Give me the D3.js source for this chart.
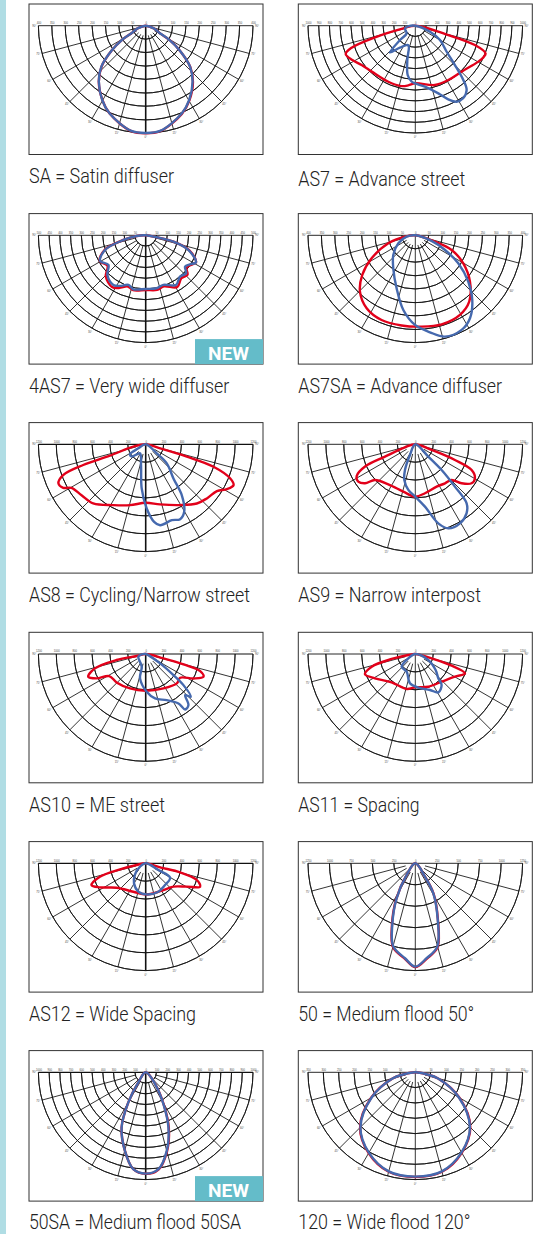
<!DOCTYPE html>
<html><head><meta charset="utf-8">
<script src="https://cdn.jsdelivr.net/npm/d3@7"></script>
<style>
html,body{margin:0;padding:0;background:#fff}
svg{display:block}
.cap{font-family:"Roboto",sans-serif;font-weight:300;font-size:19.5px;fill:#222}
.new{font-family:"Roboto",sans-serif;font-weight:700;font-size:19px;fill:#fff}
.tick text,.ang{font-family:"Liberation Sans",sans-serif;font-size:2.7px;fill:#444}
</style></head><body>
<script>
// Caption of each panel
const captions = ["SA = Satin diffuser","AS7 = Advance street","4AS7 = Very wide diffuser","AS7SA = Advance diffuser",
"AS8 = Cycling/Narrow street","AS9 = Narrow interpost","AS10 = ME street","AS11 = Spacing",
"AS12 = Wide Spacing","50 = Medium flood 50°","50SA = Medium flood 50SA","120 = Wide flood 120°"];
// Number of rings on each polar grid, and the value of one ring
const ringCounts = [8,10,10,8,6,6,6,6,6,5,10,7];
const ringSteps = [50,100,50,50,200,200,200,200,200,250,100,50];
const newBadges = [2,10];
const spokeAngles = [-75,-60,-45,-30,-15,0,15,30,45,60,75];

// Curves: [degrees from nadir, intensity as % of the outer ring]
const saRed = [[90,0],[72,8],[62,15.2],[59,26.2],[54,39.2],[47.2,56.6],[40,68.5],[30.2,80.8],[22.3,88.8],[7.8,99.2],[0,100.3],[-7.8,99.2],[-22.3,88.5],[-30.2,80.2],[-40,68],[-47.2,56],[-54,39],[-59,26],[-62,15],[-72,8]];
const saBlue = [[90,0],[72,8],[62,15],[59,26],[54,39],[47.2,56.4],[40,68],[30.2,80.4],[22.3,88.5],[7.8,99],[0,100],[-7.8,99],[-22.3,88.5],[-30.2,80.4],[-40,68],[-47.2,56.4],[-54,39],[-59,26],[-62,15],[-72,8]];
const as7Red = [[90,0],[74.2,32],[72,58.4],[68.5,70.4],[65,69.9],[60.3,67.6],[45.2,60.8],[31.3,59.2],[18.3,58.2],[0,53.7],[-6.7,56],[-12.8,57.7],[-25.7,58],[-43.5,59],[-53.8,62],[-61.4,66.8],[-67.9,70],[-70.9,62.8],[-73.9,39],[-77.5,11.4]];
const as7Blue = [[90,0],[67.8,14.8],[59.8,26.6],[50.3,38],[45.2,52],[41.5,67.5],[38.6,76.7],[33.4,81],[28.5,80.6],[24.1,75.2],[18.8,66.6],[9,57.5],[-3.7,52.3],[-8.8,46.5],[-13.1,32.8],[-19.9,19.2],[-34.9,25],[-43.5,34.3],[-46.9,19.6],[-48.5,10.8],[-75.5,10],[-87,6]];
const as47Red = [[90,0],[79.7,10.4],[77.1,26.5],[71,43],[61.8,53.2],[56.8,50.5],[51.5,48.5],[46.7,53.5],[39.7,52],[31.4,56.5],[19.6,50.5],[11.7,52],[0,51],[-12.9,52.5],[-19.2,50.5],[-26.9,55],[-33.1,57.5],[-44,53.5],[-51.5,45.5],[-60.7,49],[-70.2,41],[-78.2,21.2],[-85.8,8.4]];
const as47Blue = [[90,0],[79.7,10.4],[77.1,26.5],[71,42],[61.8,53.2],[56.8,49.4],[51.5,46.9],[46.7,51.7],[39.7,50],[31.4,54.2],[19.6,49],[11.7,50.4],[0,50],[-12.9,51.6],[-19.2,49],[-26.9,52.9],[-33.1,55.2],[-44,51.4],[-51.5,44.4],[-60.7,48.8],[-70.2,40.3],[-78.2,21.2],[-85.8,8.4]];
const as7saRed = [[90,0],[72.1,19.3],[68,36.5],[59.7,51.8],[49.7,66.8],[39.1,79.7],[29.3,85],[16.5,86.5],[4,85.3],[-8.6,85],[-21.7,85],[-33.7,81.7],[-44.5,73.6],[-53.2,61.7],[-62.2,46],[-73.5,26.2],[-82.6,9.7]];
const as7saBlue = [[90,0],[70.9,16],[63.7,30.9],[56.9,47.8],[48.8,65.6],[41.4,80.3],[33.4,92.6],[26.1,98.2],[16.3,98.4],[8.6,91.4],[-0.2,83.5],[-9.1,70.5],[-19.4,52.4],[-33.7,37],[-48.2,27.5],[-64.8,17.5],[-81.3,8.2]];
const as8Red = [[90,0],[74.4,13.9],[73.3,40],[71.7,66.6],[68,85],[65.1,90.3],[61.1,86.5],[56.7,79.4],[48.5,76.1],[40.8,72.9],[29.5,65.1],[13.4,57.6],[0,54.5],[-14.5,58.6],[-28,64.2],[-41.6,73.7],[-51.6,76.3],[-59.6,80.3],[-62.2,86.9],[-65.9,89.1],[-69.6,82.1],[-71.7,61.4],[-72.4,35],[-79.3,11.7]];
const as8Blue = [[90,0],[50.7,13.3],[47.9,26.5],[39.1,41],[35.4,58],[29.7,72.4],[24.7,76.8],[19,74.8],[10.1,76.6],[6.2,72.7],[0.9,59.8],[-5.2,41.3],[-12.7,19.8],[-32.2,10],[-48.6,17.4],[-57.4,17.4],[-61.4,7.8]];
const as9Red = [[90,0],[70.9,16.1],[68.4,39.7],[65.5,57.7],[60.3,64],[55.3,63.8],[49.9,56.4],[45.5,47.4],[37.3,45.7],[26.7,44.2],[11.2,46.5],[0,48.8],[-14.2,45.5],[-34,45],[-48.5,50.2],[-52.2,59.3],[-56.8,63.5],[-61.6,62.1],[-66.1,51.2],[-67.9,30.5],[-73.8,10]];
const as9Blue = [[90,0],[46.5,16.7],[45.7,34.3],[43.1,54],[41,72.9],[36.6,80.1],[29.5,84.6],[21.4,84.1],[16.2,76.7],[8.8,58.8],[0,48.8],[-8.7,43],[-17.1,34.8],[-21.9,25.8],[-26.6,11.1]];
const as10Red = [[90,0],[76.2,17],[74.7,36.5],[72.6,53.2],[68.5,57.9],[62.9,50],[55.4,39],[46.6,39.9],[27.2,36.1],[0,34.3],[-24.5,35.3],[-45.7,37.9],[-58.8,39.7],[-63.6,51.1],[-68.4,57.6],[-74.2,49.2],[-78.3,27.7],[-77.5,8.6]];
const as10Blue = [[90,0],[56.9,16],[52.8,32.5],[50.5,45.6],[46.5,58],[43.8,53.1],[39.9,62.1],[35.4,63.4],[33.5,55.3],[24.5,47.3],[11.9,42.3],[1.5,35.2],[-13.1,23.3],[-17.5,12.4],[-70,7.3],[-85,3.7]];
const as11Red = [[90,0],[75.1,15.7],[72.2,35.6],[68.7,49.7],[60.3,42.6],[43.6,35.6],[21.7,32.8],[0,31],[-13.9,33.6],[-39.9,34.4],[-58.9,43.9],[-68,50.6],[-73.8,42.3],[-78.1,22.5],[-81.9,6.6]];
const as11Blue = [[90,0],[65.2,13.3],[51.8,24.1],[43.4,31.2],[40.3,37.9],[31,41.7],[22.2,36.2],[5.1,31.5],[-10.3,27.8],[-26.1,18.3],[-47.2,17.4],[-58.2,7.7]];
const as12Red = [[90,0],[74.4,13.9],[75.3,33.2],[71.9,50.1],[66.8,55.3],[60.4,44.1],[49.9,33.8],[33.5,29.9],[14.3,28.9],[0,29],[-23.5,28.9],[-50,35.4],[-62.3,48.2],[-68.1,54.4],[-73.7,44.5],[-76.8,24.6],[-79.5,8.6]];
const as12Blue = [[90,0],[62.2,13.4],[59.5,26.4],[41.7,27.1],[24.1,29],[1.8,29],[-14.5,27.3],[-30.3,21.6],[-44.1,14.3],[-59.5,6.1]];
const flood50Red = [[90,0],[35.9,15.3],[31,33],[22.1,55.8],[14.8,81],[6.8,89.6],[0,96.8],[-6.2,89.6],[-14.8,81],[-20.5,62.3],[-28.1,37.8],[-36.6,13.5]];
const flood50Blue = [[90,0],[35.9,15.3],[31,32.6],[22.1,55.3],[14.8,80.3],[6.8,89.1],[0,96.3],[-6.2,89],[-14.8,80.3],[-20.5,61.3],[-28.1,37],[-36.6,13.5]];
const flood50saRed = [[90,0],[38.7,14.3],[29.2,34.5],[22.4,56.6],[15,76.5],[7.5,91.4],[0,94.6],[-7.3,91],[-14.8,75.7],[-23.6,56.1],[-30,32.4],[-36.3,11.6]];
const flood50saBlue = [[90,0],[38.7,14],[29.2,33.9],[22.4,55.6],[15,75.8],[7.5,91],[0,94.4],[-7.3,91],[-14.8,75.7],[-23.6,56.1],[-30,32.4],[-36.3,11.6]];
const flood120Red = [[90,0],[80,10.5],[75,22],[60,47.5],[45,72.5],[30,86.6],[15,96],[0,97.6],[-15,96],[-30,87],[-45,72.8],[-60,47.5],[-75,22],[-80,10.5]];
const flood120Blue = [[90,0],[80,10.5],[75,22],[60,47],[45,72],[30,86.2],[15,95.6],[0,97.2],[-15,95.6],[-30,86.5],[-45,72.3],[-60,47],[-75,22],[-80,10.5]];

const redCurves = [saRed,as7Red,as47Red,as7saRed,as8Red,as9Red,as10Red,as11Red,as12Red,flood50Red,flood50saRed,flood120Red];
const blueCurves = [saBlue,as7Blue,as47Blue,as7saBlue,as8Blue,as9Blue,as10Blue,as11Blue,as12Blue,flood50Blue,flood50saBlue,flood120Blue];

// Layout
const W=550,H=1234,R=107.3,inner=10;
const colBox=[29,298.3], boxW=234, boxH=150.5, colCx=[145.7,415.3];
const rowBase=[25.7,235.3,444.3,654,863.3,1072.3];
const capY=[[183,185.7],[393,393],[601.7,601.7],[811.7,811.7],[1020.7,1020.7],[1229,1229]];
const capW=[145,167,200.3,203.7,221,182.7,136,121.3,167,176,212,172.2];
const RED="#e2001a",BLUE="#4569ae",INK="#111";

const svg=d3.select("body").append("svg").attr("width",W).attr("height",H);
svg.append("rect").attr("width",6).attr("height",H).attr("fill","#b0dde4");

const rad=d3.scaleLinear().domain([0,100]).range([0,R]);
const ang=d3.scaleLinear().domain([0,180]).range([Math.PI,0]);
const curve=d3.lineRadial().angle(d=>ang(d[0])).radius(d=>rad(d[1])).curve(d3.curveCatmullRomClosed.alpha(0.5));

captions.forEach((cap,i)=>{
  const col=i%2,row=Math.floor(i/2),cx=colCx[col],cy=rowBase[row],bx=colBox[col],by=cy-21.7;
  const n=ringCounts[i],step=ringSteps[i];
  svg.append("rect").attr("x",bx).attr("y",by).attr("width",boxW).attr("height",boxH)
    .attr("fill","#fff").attr("stroke","#333").attr("stroke-width",1);
  const g=svg.append("g").attr("transform",`translate(${cx},${cy})`);
  const ring=d3.scaleLinear().domain([0,n]).range([0,R]);
  const arc=d3.arc().startAngle(Math.PI/2).endAngle(Math.PI*1.5);
  g.selectAll("path.ring").data(d3.range(1,n+1)).join("path").attr("class","ring")
    .attr("d",k=>arc({innerRadius:ring(k),outerRadius:ring(k)}))
    .attr("fill","none").attr("stroke",INK).attr("stroke-width",0.85);
  g.selectAll("line.spoke").data(spokeAngles).join("line").attr("class","spoke")
    .attr("x1",a=>(a===0?0:inner)*Math.sin(a*Math.PI/180))
    .attr("y1",a=>(a===0?0:inner)*Math.cos(a*Math.PI/180))
    .attr("x2",a=>R*Math.sin(a*Math.PI/180))
    .attr("y2",a=>R*Math.cos(a*Math.PI/180))
    .attr("stroke",INK)
    .attr("stroke-width",a=>a===0&&col===0?1.6:0.85);
  g.append("line").attr("x1",-R).attr("x2",R).attr("stroke",INK).attr("stroke-width",col===0&&row>1?1.2:0.9);
  // value labels along the top and angle labels round the rim
  const xs=d3.scaleLinear().domain([-n,n]).range([-R,R]);
  const ax=d3.axisTop(xs).tickValues(d3.range(-n,n+1)).tickSize(0).tickPadding(1.8).tickFormat(v=>Math.abs(v)*step);
  const ag=g.append("g").call(ax);
  ag.select(".domain").remove();
  g.selectAll("text.ang").data([-90,...spokeAngles,90]).join("text").attr("class","ang")
    .attr("x",a=>(R+4)*Math.sin(a*Math.PI/180))
    .attr("y",a=>(R+4)*Math.cos(a*Math.PI/180)+1)
    .attr("text-anchor","middle").text(a=>Math.abs(a)+"°");
  g.append("path").attr("d",curve(redCurves[i])).attr("fill","none").attr("stroke",RED).attr("stroke-width",2.4).attr("stroke-linejoin","round");
  g.append("path").attr("d",curve(blueCurves[i])).attr("fill","none").attr("stroke",BLUE).attr("stroke-width",2.4).attr("stroke-linejoin","round");
  if(newBadges.includes(i)){
    const by2=by+boxH;
    svg.append("rect").attr("x",bx+166).attr("y",by2-25).attr("width",68).attr("height",25).attr("fill","#64bcc9");
    svg.append("text").attr("class","new").attr("x",bx+179).attr("y",by2-4.5)
      .attr("textLength",41).attr("lengthAdjust","spacingAndGlyphs").text("NEW");
  }
  svg.append("text").attr("class","cap").attr("x",bx).attr("y",capY[row][col])
    .attr("textLength",capW[i]).attr("lengthAdjust","spacingAndGlyphs").text(cap);
});
</script>
</body></html>
